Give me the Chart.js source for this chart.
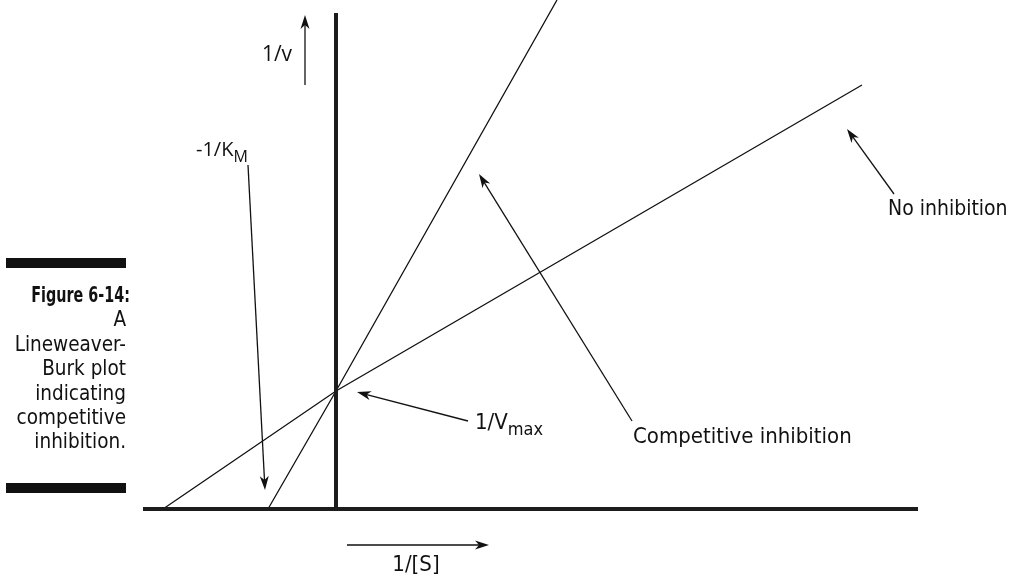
<!DOCTYPE html>
<html>
<head>
<meta charset="utf-8">
<script src="https://cdn.jsdelivr.net/npm/chart.js@4.4.1/dist/chart.umd.min.js"></script>
<style>
html, body { margin: 0; padding: 0; background: #fff; }
#wrap { position: relative; width: 1013px; height: 580px; }
#chart { position: absolute; left: 0; top: 0; }
#caption {
    position: absolute; left: 0px; width: 126px; text-align: right;
    font-family: "DejaVu Sans Condensed", "Liberation Sans", sans-serif;
    font-size: 20.5px; line-height: 24.4px; color: #111;
}
#caption div { white-space: nowrap; }
#caption .fig { display: inline-block; font-weight: bold; font-size: 21px; transform: scaleX(0.76); transform-origin: right center; }
.bar { position: absolute; left: 6px; width: 120px; height: 10px; background: #111; }
</style>
</head>
<body>
<div id="wrap">
    <canvas id="chart" width="1013" height="580"></canvas>
    <div class="bar" style="top:258px"></div>
    <div id="caption" style="top:283px">
        <div><span class="fig">Figure 6-14:</span></div>
        <div>A</div>
        <div>Lineweaver-</div>
        <div>Burk plot</div>
        <div>indicating</div>
        <div>competitive</div>
        <div>inhibition.</div>
    </div>
    <div class="bar" style="top:483px"></div>
</div>
<script>
// Lineweaver-Burk plot: x = 1/[S], y = 1/v (arbitrary units)

// axes of the plot
const axisXRange = [-1.93, 5.82];
const axisYRange = [0, 4.96];

// no inhibition line: x-intercept, y-intercept (1/Vmax), end point
const noInhX = [-1.73, 0, 5.26];
const noInhY = [0, 1.18, 4.24];

// competitive inhibition line: x-intercept (-1/KM), y-intercept, end point
const compX = [-0.68, 0, 2.21];
const compY = [0, 1.18, 5.09];

const toPoints = (xs, ys) => xs.map((x, i) => ({ x: x, y: ys[i] }));

const LINE_FONT = '"DejaVu Sans Condensed", "Liberation Sans", sans-serif';
const MYRIAD_FONT = '"Open Sans", "Noto Sans", sans-serif';

// annotation texts and arrows, positioned in data units
const notes = [
    { text: '1/v', x: -0.59, y: 4.54, align: 'center', font: MYRIAD_FONT, size: 21 },
    { text: '-1/K', sub: 'M', x: -1.40, y: 3.59, align: 'left', font: MYRIAD_FONT, size: 20 },
    { text: 'Competitive inhibition', x: 2.97, y: 0.72, align: 'left', font: LINE_FONT, size: 22 },
    { text: 'No inhibition', x: 5.52, y: 2.99, align: 'left', font: LINE_FONT, size: 21 },
    { text: '1/V', sub: 'max', x: 1.39, y: 0.86, align: 'left', font: LINE_FONT, size: 22 },
    { text: '1/[S]', x: 0.80, y: -0.56, align: 'center', font: LINE_FONT, size: 22 }
];
const arrows = [
    { from: [-0.31, 4.24], to: [-0.31, 4.94] },
    { from: [-0.88, 3.44], to: [-0.71, 0.19] },
    { from: [2.96, 0.88], to: [1.43, 3.35] },
    { from: [5.58, 3.15], to: [5.11, 3.80] },
    { from: [1.32, 0.88], to: [0.21, 1.17] },
    { from: [0.11, -0.36], to: [1.53, -0.36] }
];

function drawArrow(ctx, x1, y1, x2, y2) {
    const ang = Math.atan2(y2 - y1, x2 - x1);
    ctx.beginPath();
    ctx.moveTo(x1, y1);
    ctx.lineTo(x2 - Math.cos(ang) * 8, y2 - Math.sin(ang) * 8);
    ctx.stroke();
    ctx.save();
    ctx.translate(x2, y2);
    ctx.rotate(ang);
    ctx.beginPath();
    ctx.moveTo(0, 0);
    ctx.lineTo(-14, -4.5);
    ctx.lineTo(-10, 0);
    ctx.lineTo(-14, 4.5);
    ctx.closePath();
    ctx.fill();
    ctx.restore();
}

const notesPlugin = {
    id: 'notes',
    afterDraw(chart) {
        const ctx = chart.ctx;
        const xs = chart.scales.x, ys = chart.scales.y;
        ctx.save();
        ctx.strokeStyle = '#111';
        ctx.fillStyle = '#111';
        ctx.lineWidth = 1.3;
        arrows.forEach(a => {
            drawArrow(ctx, xs.getPixelForValue(a.from[0]), ys.getPixelForValue(a.from[1]),
                xs.getPixelForValue(a.to[0]), ys.getPixelForValue(a.to[1]));
        });
        ctx.textBaseline = 'middle';
        notes.forEach(n => {
            let px = xs.getPixelForValue(n.x);
            const py = ys.getPixelForValue(n.y);
            ctx.font = n.size + 'px ' + n.font;
            const w = ctx.measureText(n.text).width;
            let sw = 0;
            if (n.sub) {
                ctx.font = Math.round(n.size * 0.8) + 'px ' + n.font;
                sw = ctx.measureText(n.sub).width;
            }
            if (n.align === 'center') px -= (w + sw) / 2;
            ctx.textAlign = 'left';
            ctx.font = n.size + 'px ' + n.font;
            ctx.fillText(n.text, px, py);
            if (n.sub) {
                ctx.font = Math.round(n.size * 0.8) + 'px ' + n.font;
                ctx.fillText(n.sub, px + w, py + n.size * 0.35);
            }
        });
        ctx.restore();
    }
};

const lineStyle = { showLine: true, pointRadius: 0, borderColor: '#111', fill: false };
const axisStyle = { showLine: true, pointRadius: 0, borderColor: '#1c1c1c', borderWidth: 4 };

new Chart(document.getElementById('chart').getContext('2d'), {
    type: 'scatter',
    data: {
        datasets: [
            Object.assign({ label: 'x axis', data: toPoints(axisXRange, [0, 0]) }, axisStyle),
            Object.assign({ label: 'y axis', data: toPoints([0, 0], axisYRange) }, axisStyle),
            Object.assign({ label: 'No inhibition', data: toPoints(noInhX, noInhY), borderWidth: 1.3 }, lineStyle),
            Object.assign({ label: 'Competitive inhibition', data: toPoints(compX, compY), borderWidth: 1.3 }, lineStyle)
        ]
    },
    options: {
        responsive: false,
        animation: false,
        events: [],
        layout: { padding: 0 },
        plugins: { legend: { display: false }, tooltip: { enabled: false } },
        scales: {
            x: { type: 'linear', min: -3.36, max: 6.77, display: false },
            y: { type: 'linear', min: -0.71, max: 5.09, display: false }
        }
    },
    plugins: [notesPlugin]
});
</script>
</body>
</html>
